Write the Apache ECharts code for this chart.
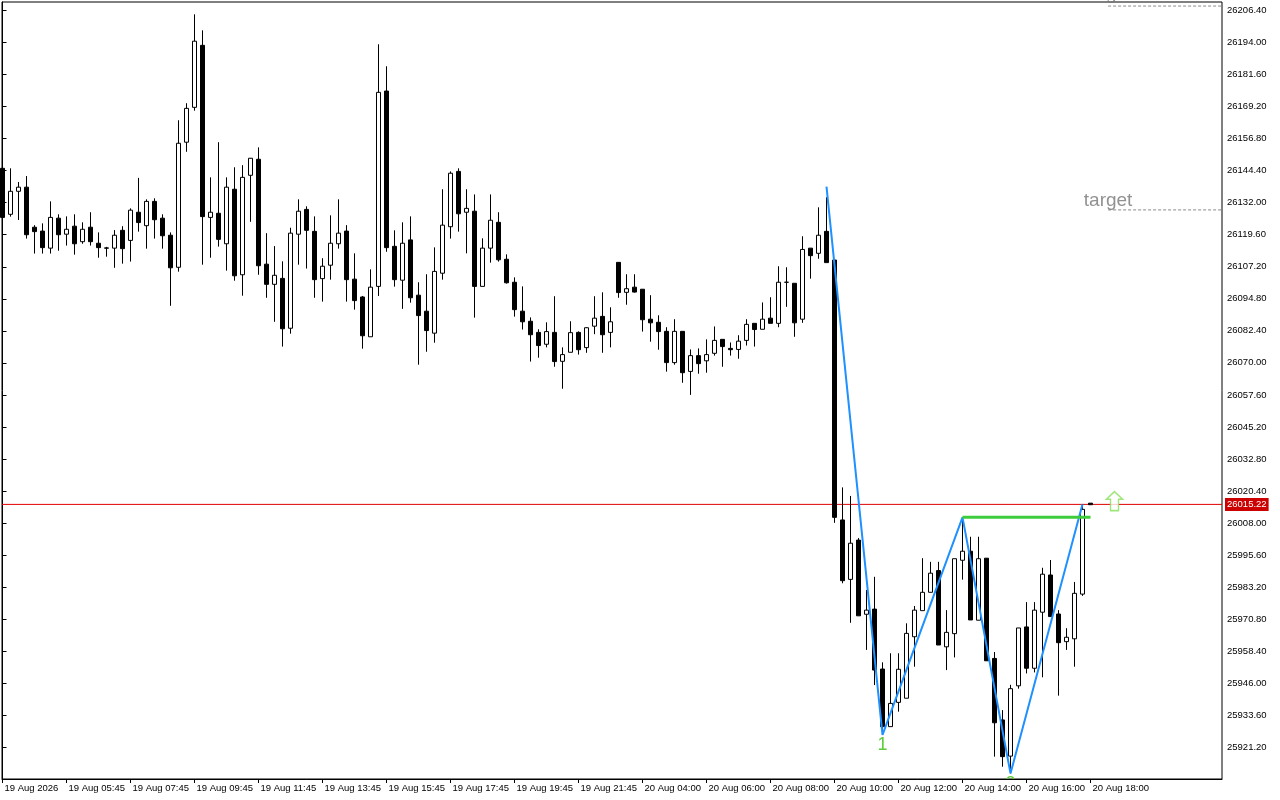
<!DOCTYPE html>
<html>
<head>
<meta charset="utf-8">
<script src="https://cdn.jsdelivr.net/npm/echarts@6/dist/echarts.min.js"></script>
<style>
html,body{margin:0;padding:0;background:#fff;}
#chart{width:1280px;height:800px;}
</style>
</head>
<body>
<div id="chart"></div>
<script>
// ---- data (15-minute bars, 19-20 Aug 2026) ----
const opens = [26145.3,26127.5,26136.4,26138.0,26122.5,26121.0,26114.4,26126.0,26119.8,26122.9,
26116.9,26122.5,26116.3,26114.5,26114.4,26121.3,26117.4,26128.3,26123.1,26132.5,
26126.0,26119.4,26107.0,26155.4,26168.9,26192.9,26126.3,26127.9,26116.1,26137.2,
26104.1,26142.6,26148.8,26108.2,26100.4,26102.7,26083.4,26119.8,26129.4,26120.9,
26102.6,26107.8,26116.1,26121.0,26102.4,26095.5,26080.1,26099.6,26175.2,26115.1,
26102.0,26117.6,26096.2,26090.0,26081.5,26104.7,26122.7,26144.1,26128.3,26128.7,
26099.6,26114.4,26124.4,26110.1,26101.2,26090.0,26086.1,26081.8,26077.2,26081.8,
26070.6,26074.1,26081.8,26075.9,26084.2,26088.0,26081.8,26108.9,26097.3,26099.3,
26098.5,26086.9,26085.7,26082.2,26070.1,26082.2,26066.7,26072.8,26070.8,26073.7,
26079.1,26075.6,26075.2,26078.7,26085.3,26083.0,26087.3,26085.3,26101.2,26100.8,
26086.9,26114.4,26112.4,26120.9,26109.8,26009.2,25986.2,26001.4,25972.7,25974.7,
25951.5,25929.2,25938.6,25940.2,25964.0,25974.1,25981.2,25989.6,25960.1,25965.2,
25993.6,25997.1,25970.4,25994.4,25955.6,25931.8,25917.8,25945.0,25967.8,25951.8,
25973.5,25987.9,25972.8,25962.1,25963.2,25980.5,26015.7];
const closes = [26126.3,26136.4,26138.0,26119.6,26120.8,26114.6,26126.3,26119.6,26121.7,26116.1,
26121.7,26116.9,26114.6,26114.4,26119.4,26114.2,26129.1,26124.3,26132.5,26125.4,
26119.2,26106.8,26155.0,26168.5,26194.5,26126.6,26128.3,26117.8,26138.0,26103.7,
26141.8,26149.2,26107.6,26100.4,26103.9,26083.2,26120.2,26128.7,26121.3,26102.2,
26107.4,26116.3,26120.2,26102.2,26094.1,26080.5,26099.3,26174.7,26114.6,26102.2,
26116.3,26095.2,26088.3,26082.5,26105.4,26123.3,26143.4,26127.7,26129.8,26099.6,
26114.4,26125.2,26109.9,26101.0,26090.6,26085.9,26080.9,26076.7,26082.1,26070.5,
26073.2,26081.7,26075.1,26083.6,26087.3,26080.9,26085.9,26097.2,26098.7,26097.4,
26086.7,26085.5,26082.1,26070.1,26082.2,26066.2,26072.8,26069.7,26073.2,26078.7,
26076.3,26075.1,26078.4,26084.9,26082.9,26086.9,26085.3,26101.2,26101.2,26085.5,
26113.9,26111.5,26119.4,26108.8,26010.2,25985.7,26000.2,25972.1,25974.3,25951.1,
25929.2,25938.2,25951.4,25965.3,25974.3,25981.2,25988.6,25960.8,25965.7,25994.2,
25997.1,25970.5,25994.2,25954.7,25930.7,25917.6,25943.9,25967.4,25951.8,25974.3,
25988.2,25971.8,25961.7,25963.8,25980.8,26013.3,26015.1];
const lows = [26125.7,26126.6,26125.3,26118.1,26112.3,26112.3,26112.3,26113.4,26115.4,26111.9,
26116.1,26115.4,26110.7,26111.1,26106.8,26108.4,26109.2,26120.8,26114.2,26118.1,
26114.2,26092.1,26105.3,26151.7,26167.6,26108.0,26110.7,26115.0,26105.7,26101.8,
26096.0,26124.6,26104.1,26095.2,26085.9,26076.3,26081.3,26108.0,26106.5,26095.2,
26093.7,26102.2,26114.2,26093.7,26090.6,26075.5,26080.1,26095.9,26113.0,26099.5,
26090.9,26093.3,26069.3,26074.3,26077.8,26102.2,26118.1,26120.8,26112.4,26087.5,
26099.6,26108.8,26109.2,26100.7,26087.9,26082.9,26070.5,26072.0,26076.0,26068.5,
26060.0,26074.1,26073.2,26073.9,26081.1,26073.9,26076.0,26095.2,26092.5,26097.2,
26082.1,26078.2,26075.1,26066.6,26069.3,26062.3,26057.6,26065.8,26066.2,26072.8,
26068.5,26072.8,26071.6,26076.7,26076.3,26083.0,26085.3,26083.8,26091.7,26080.1,
26085.5,26102.6,26110.3,26108.8,26008.1,25984.7,25969.4,25972.1,25958.9,25945.3,
25926.0,25929.2,25935.0,25940.2,25952.4,25974.1,25981.2,25960.8,25951.1,25956.0,
25986.1,25970.5,25970.4,25954.7,25917.6,25913.7,25911.1,25943.9,25949.8,25950.2,
25948.3,25971.8,25941.2,25958.9,25952.4,25979.8,26015.1];
const highs = [26146.2,26145.3,26140.0,26142.3,26123.3,26124.0,26132.5,26127.5,26126.7,26127.5,
26124.4,26128.3,26120.5,26114.9,26121.4,26122.9,26129.8,26141.6,26133.3,26133.7,
26127.5,26120.5,26163.9,26170.5,26204.9,26198.7,26141.8,26155.4,26141.8,26145.7,
26146.5,26149.3,26153.4,26120.2,26115.2,26109.3,26122.3,26133.3,26130.6,26126.7,
26110.5,26127.1,26133.3,26123.3,26112.4,26095.9,26106.2,26193.3,26184.8,26121.3,
26124.4,26126.7,26101.2,26104.3,26114.7,26137.2,26144.1,26145.3,26137.2,26135.2,
26118.2,26135.2,26128.3,26112.0,26103.1,26099.6,26087.6,26083.0,26085.7,26095.8,
26076.0,26086.1,26082.2,26083.8,26095.8,26097.3,26091.5,26108.9,26104.3,26104.3,
26098.5,26096.2,26088.4,26083.8,26086.9,26082.2,26075.2,26075.6,26079.1,26084.1,
26079.1,26077.9,26080.7,26086.9,26085.3,26093.4,26095.4,26107.4,26107.0,26100.8,
26119.0,26114.4,26130.2,26134.1,26110.2,26021.8,26018.5,26002.2,25982.1,25987.2,
25954.1,25957.6,25957.6,25969.2,25975.9,25994.4,25993.0,25993.0,25974.3,25994.2,
26010.2,26002.7,26002.7,25994.4,25958.1,25935.6,25945.4,25967.4,25977.4,25977.4,
25990.7,25993.7,25974.3,25967.3,25985.2,26015.4,26015.7];

// time-axis tick labels (every 8th bar)
const tickBars = [0,8,16,24,32,40,48,56,64,72,80,88,96,104,112,120,128,136];
const tickLabels = ['19 Aug 2026','19 Aug 05:45','19 Aug 07:45','19 Aug 09:45','19 Aug 11:45',
  '19 Aug 13:45','19 Aug 15:45','19 Aug 17:45','19 Aug 19:45','19 Aug 21:45',
  '20 Aug 04:00','20 Aug 06:00','20 Aug 08:00','20 Aug 10:00','20 Aug 12:00',
  '20 Aug 14:00','20 Aug 16:00','20 Aug 18:00'];
// price-axis tick values
const priceTicks = [25921.2,25933.6,25946.0,25958.4,25970.8,25983.2,25995.6,26008.0,26020.4,
  26032.8,26045.2,26057.6,26070.0,26082.4,26094.8,26107.2,26119.6,26132.0,26144.4,
  26156.8,26169.2,26181.6,26194.0,26206.4];

// zigzag pivots [bar, price]
const zigzagBars = [103,110,120,126,135];
const zigzagPrices = [26138.2,25926.0,26010.2,25911.1,26015.3];
const waveLabels = ['1','2'];
const waveBars = [110,126];
const wavePrices = [25926.0,25911.1];
// neckline
const necklineBars = [120,136];
const necklinePrice = 26010.2;
// current price
const lastPrice = 26015.22;
// targets
const targetPrices = [26129.2,26208.1];
const targetStartBar = 138.2;
const targetEndBar = 152.5;
// signal arrow
const arrowBar = 139;
const arrowPrice = 26016.5;

const FONT = '"Liberation Sans", Arial, sans-serif';
const chart = echarts.init(document.getElementById('chart'), null, {renderer:'canvas'});

const candleData = opens.map((o,i)=>[i, o, closes[i], lows[i], highs[i]]);

const option = {
  animation: false,
  backgroundColor: '#ffffff',
  grid: {left: 2, right: 58, top: 2, bottom: 21, show: true, borderColor: '#000', borderWidth: 1, backgroundColor: '#fff'},
  xAxis: {
    type: 'value',
    min: -0.0625, max: 152.4375,
    axisLine: {show: true, lineStyle: {color: '#000', width: 1}},
    splitLine: {show: false},
    axisTick: {show: true, length: 4, lineStyle: {color: '#000'}, customValues: tickBars},
    axisLabel: {
      customValues: tickBars, align: 'left', margin: 4,
      color: '#000', fontSize: 9.5, fontFamily: FONT, padding: [0,0,0,2],
      formatter: v => { const i = tickBars.indexOf(Math.round(v)); return i >= 0 ? tickLabels[i] : ''; }
    }
  },
  yAxis: {
    type: 'value', position: 'right',
    min: 25908.94, max: 26209.67, scale: true,
    axisLine: {show: true, lineStyle: {color: '#000', width: 1}},
    splitLine: {show: false},
    axisTick: {show: true, length: 4, inside: false, lineStyle: {color: '#000'}, customValues: priceTicks},
    axisLabel: {
      customValues: priceTicks, margin: 5, color: '#000', fontSize: 9.5, fontFamily: FONT,
      formatter: v => v.toFixed(2)
    }
  },
  series: [
    {
      type: 'line', name: 'price',
      data: [[-0.0625, lastPrice],[152.4375, lastPrice]],
      symbol: 'none', lineStyle: {color: '#e00000', width: 1}, z: 1,
      markLine: {
        silent: true, symbol: 'none', animation: false, z: 1,
        data: [{yAxis: lastPrice}],
        lineStyle: {color: 'rgba(0,0,0,0)', width: 1, type: 'solid'},
        label: {
          show: true, position: 'end', distance: 3,
          formatter: () => lastPrice.toFixed(2),
          backgroundColor: '#cc0000', color: '#ffffff', padding: [2,2,1,2],
          fontSize: 9.5, fontFamily: FONT
        }
      }
    },
    {
      type: 'candlestick',
      dimensions: ['bar','open','close','lowest','highest'],
      encode: {x: 'bar', y: ['open','close','lowest','highest']},
      data: candleData,
      barWidth: 4,
      itemStyle: {color: '#ffffff', color0: '#000000', borderColor: '#000000', borderColor0: '#000000', borderWidth: 1},
      z: 3
    },
    {
      type: 'line', name: 'zigzag',
      data: zigzagBars.map((b,i)=>[b, zigzagPrices[i]]),
      symbol: 'none', lineStyle: {color: '#1e90ff', width: 2}, z: 4
    },
    {
      type: 'line', name: 'neckline',
      data: necklineBars.map(b=>[b, necklinePrice]),
      symbol: 'none', lineStyle: {color: '#3ccc3c', width: 3}, z: 5
    },
    ...targetPrices.map(tp => ({
      type: 'line', name: 'target',
      data: [[targetStartBar, tp],[targetEndBar, tp]],
      symbol: 'none', lineStyle: {color: '#8a8a8a', width: 1, type: [3,2]}, z: 3
    })),
    {
      type: 'scatter', name: 'targetText',
      data: targetPrices.map((tp,i)=>({value: [targetStartBar, tp], label: {distance: i === 0 ? -1 : 2}})),
      symbol: 'circle', symbolSize: 1, itemStyle: {color: 'rgba(255,255,255,0)'},
      label: {show: true, position: 'top', distance: -1, formatter: 'target',
        color: '#757575', fontSize: 19, fontFamily: FONT},
      clip: false, z: 6
    },
    {
      type: 'custom', name: 'waves', clip: true,
      data: waveBars.map((b,i)=>[b, wavePrices[i]]),
      renderItem: (params, api) => {
        const p = api.coord([api.value(0), api.value(1)]);
        return {type: 'text', x: p[0], y: p[1] + 10.5,
          style: {text: waveLabels[params.dataIndex], fill: '#5ccc3a', font: '18px ' + FONT,
            align: 'center', verticalAlign: 'middle'}};
      },
      z: 6
    },
    {
      type: 'scatter', name: 'arrow',
      data: [[arrowBar, arrowPrice]],
      symbol: 'path://M8,0 L16,8 L12,8 L12,20 L4,20 L4,8 L0,8 Z',
      symbolSize: [16, 19],
      itemStyle: {color: '#ffffff', borderColor: '#86e05a', borderWidth: 1.5},
      z: 6
    }
  ]
};
chart.setOption(option);
</script>
</body>
</html>
